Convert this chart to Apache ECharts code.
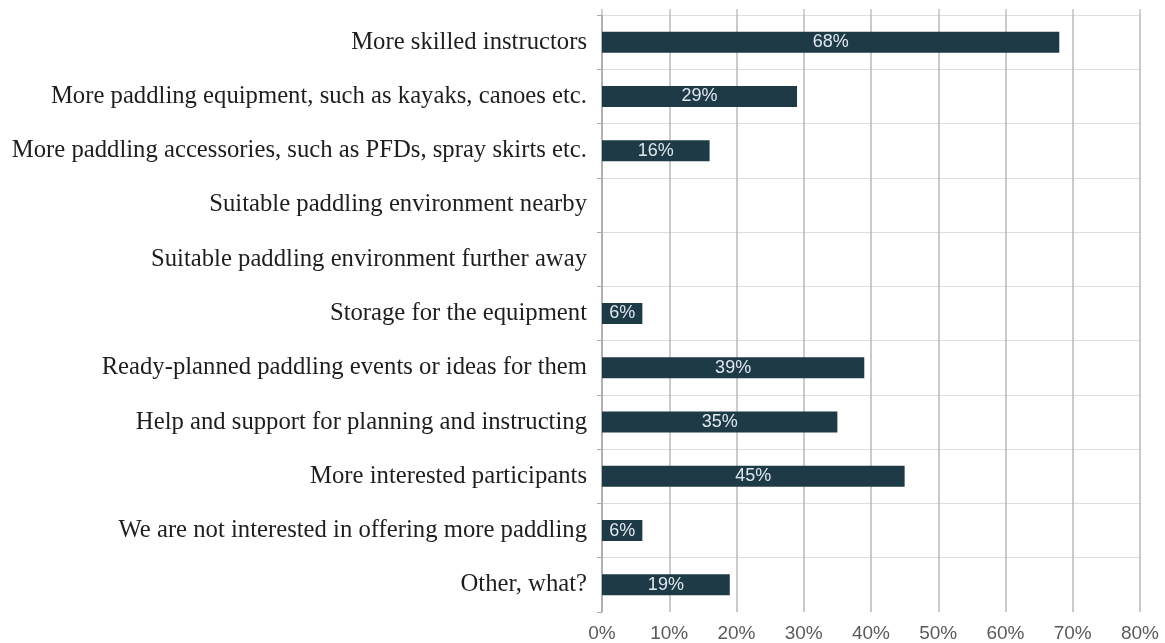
<!DOCTYPE html>
<html>
<head>
<meta charset="utf-8">
<title>Paddling support needs</title>
<script src="https://cdn.jsdelivr.net/npm/echarts@6/dist/echarts.min.js"></script>
<style>
  html, body { margin: 0; padding: 0; background: #ffffff; }
  #chart { width: 1165px; height: 643px; }
</style>
</head>
<body>
<div id="chart"></div>
<script>
// Answer options, listed top to bottom
const categories = [
  'More skilled instructors',
  'More paddling equipment, such as kayaks, canoes etc.',
  'More paddling accessories, such as PFDs, spray skirts etc.',
  'Suitable paddling environment nearby',
  'Suitable paddling environment further away',
  'Storage for the equipment',
  'Ready-planned paddling events or ideas for them',
  'Help and support for planning and instructing',
  'More interested participants',
  'We are not interested in offering more paddling',
  'Other, what?'
];

// Share of respondents (%)
const shares = [68, 29, 16, 0, 0, 6, 39, 35, 45, 6, 19];

// Percentage axis ticks
const tickMin = 0;
const tickMax = 80;
const tickStep = 10;

const chart = echarts.init(document.getElementById('chart'), null, { renderer: 'canvas' });

// Horizontal band separators: grey except the closing one at the bottom
const bandLineColors = categories.map(() => '#dedede').concat(['rgba(255,255,255,0)']);

chart.setOption({
  backgroundColor: '#ffffff',
  animation: false,
  grid: { left: 602, right: 25, top: 15, bottom: 31, containLabel: false },
  xAxis: [
    {
      type: 'value',
      min: tickMin,
      max: tickMax,
      interval: tickStep,
      position: 'bottom',
      axisLine: { show: false },
      axisTick: { show: false },
      axisLabel: {
        formatter: '{value}%',
        color: '#5a5a5a',
        fontFamily: 'Liberation Sans, Arial, sans-serif',
        fontSize: 19,
        margin: 12
      },
      splitLine: { show: true, lineStyle: { color: '#b8b8b8', width: 1.5 } }
    },
    {
      type: 'value',
      min: tickMin,
      max: tickMax,
      interval: tickStep,
      position: 'top',
      axisLine: { show: false },
      axisTick: { show: true, length: 6, inside: false, lineStyle: { color: '#c4c4c4', width: 1.5 } },
      axisLabel: { show: false },
      splitLine: { show: false }
    }
  ],
  yAxis: {
    type: 'category',
    inverse: true,
    data: categories,
    axisLine: { show: true, lineStyle: { color: '#a8a8a8', width: 1.5 } },
    axisTick: { show: true, length: 5, lineStyle: { color: '#a8a8a8' } },
    axisLabel: {
      color: '#1e1e1e',
      fontFamily: 'Liberation Serif, Times New Roman, serif',
      fontSize: 24.7,
      margin: 15
    },
    splitLine: { show: true, lineStyle: { color: bandLineColors, width: 1 } }
  },
  series: [
    {
      type: 'bar',
      xAxisIndex: 0,
      data: shares,
      barWidth: 21,
      itemStyle: { color: '#1e3a46' },
      label: {
        show: true,
        position: 'inside',
        color: '#dfe8ee',
        fontFamily: 'Liberation Sans, Arial, sans-serif',
        fontSize: 18,
        formatter: (p) => (p.value > 0 ? p.value + '%' : '')
      }
    }
  ]
});
</script>
</body>
</html>
